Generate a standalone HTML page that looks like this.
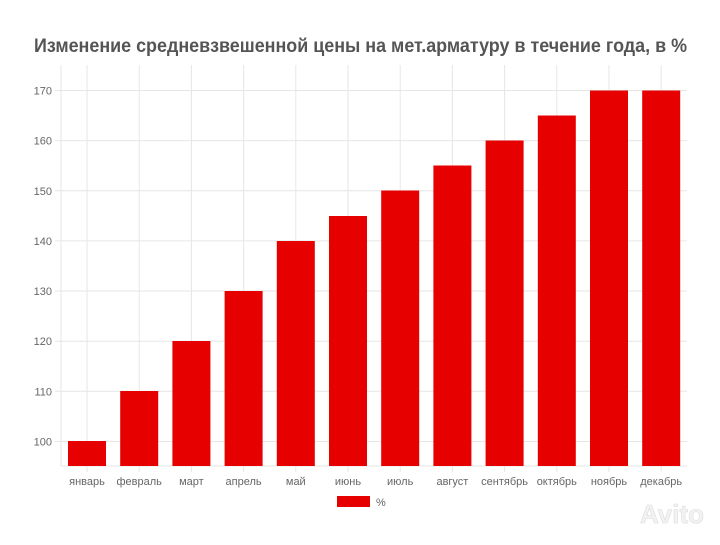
<!DOCTYPE html><html><head><meta charset="utf-8"><style>body{margin:0;background:#fff}</style></head><body>
<svg width="720" height="540" xmlns="http://www.w3.org/2000/svg" font-family="Liberation Sans, sans-serif">
<rect width="720" height="540" fill="#fff"/>
<text x="34" y="52" font-size="19" font-weight="bold" fill="#555" textLength="653" lengthAdjust="spacingAndGlyphs">Изменение средневзвешенной цены на мет.арматуру в течение года, в %</text>
<g stroke="#e6e6e6" stroke-width="1">
<line x1="55" y1="90.5" x2="687" y2="90.5"/><line x1="55" y1="140.6" x2="687" y2="140.6"/><line x1="55" y1="190.8" x2="687" y2="190.8"/><line x1="55" y1="240.9" x2="687" y2="240.9"/><line x1="55" y1="291" x2="687" y2="291"/><line x1="55" y1="341.2" x2="687" y2="341.2"/><line x1="55" y1="391.3" x2="687" y2="391.3"/><line x1="55" y1="441.5" x2="687" y2="441.5"/>
<line x1="61" y1="65" x2="61" y2="466"/>
<line x1="87" y1="65" x2="87" y2="472"/><line x1="139.2" y1="65" x2="139.2" y2="472"/><line x1="191.4" y1="65" x2="191.4" y2="472"/><line x1="243.6" y1="65" x2="243.6" y2="472"/><line x1="295.8" y1="65" x2="295.8" y2="472"/><line x1="348" y1="65" x2="348" y2="472"/><line x1="400.2" y1="65" x2="400.2" y2="472"/><line x1="452.4" y1="65" x2="452.4" y2="472"/><line x1="504.6" y1="65" x2="504.6" y2="472"/><line x1="556.8" y1="65" x2="556.8" y2="472"/><line x1="609" y1="65" x2="609" y2="472"/><line x1="661.2" y1="65" x2="661.2" y2="472"/>
<line x1="61" y1="466" x2="687" y2="466"/>
</g>
<g fill="#e60000">
<rect x="68" y="441" width="38" height="25"/>
<rect x="120.2" y="391" width="38" height="75"/>
<rect x="172.4" y="341" width="38" height="125"/>
<rect x="224.6" y="291" width="38" height="175"/>
<rect x="276.8" y="241" width="38" height="225"/>
<rect x="329" y="216" width="38" height="250"/>
<rect x="381.2" y="190.5" width="38" height="275.5"/>
<rect x="433.4" y="165.5" width="38" height="300.5"/>
<rect x="485.6" y="140.5" width="38" height="325.5"/>
<rect x="537.8" y="115.5" width="38" height="350.5"/>
<rect x="590" y="90.5" width="38" height="375.5"/>
<rect x="642.2" y="90.5" width="38" height="375.5"/>
<rect x="337" y="496" width="33" height="11"/>
</g>
<g font-size="11" fill="#666" text-anchor="end">
<text x="52" y="94.5">170</text><text x="52" y="144.6">160</text><text x="52" y="194.8">150</text><text x="52" y="244.9">140</text><text x="52" y="295">130</text><text x="52" y="345.2">120</text><text x="52" y="395.3">110</text><text x="52" y="445.5">100</text>
</g>
<g font-size="11" fill="#666" text-anchor="middle">
<text x="87" y="485">январь</text><text x="139.2" y="485">февраль</text><text x="191.4" y="485">март</text><text x="243.6" y="485">апрель</text><text x="295.8" y="485">май</text><text x="348" y="485">июнь</text><text x="400.2" y="485">июль</text><text x="452.4" y="485">август</text><text x="504.6" y="485">сентябрь</text><text x="556.8" y="485">октябрь</text><text x="609" y="485">ноябрь</text><text x="661.2" y="485">декабрь</text>
</g>
<text x="376" y="506" font-size="11" fill="#666">%</text>
<text x="640" y="523" font-size="26" font-weight="bold" fill="#f2f2f2" stroke="#ddd" stroke-width="0.6">Avito</text>
</svg>
</body></html>
